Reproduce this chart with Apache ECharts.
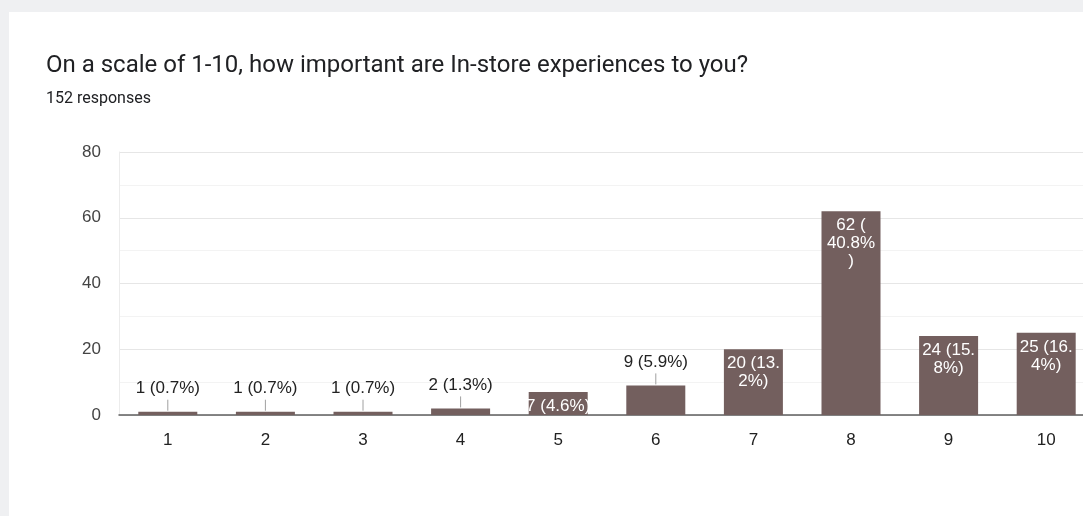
<!DOCTYPE html>
<html><head><meta charset="utf-8">
<script src="https://cdn.jsdelivr.net/npm/echarts@6/dist/echarts.min.js"></script>
<style>
html,body{margin:0;padding:0;background:#eff0f2;width:1083px;height:516px;overflow:hidden}
#card{position:absolute;left:9px;top:12px;width:1074px;height:504px;background:#fff;overflow:hidden}
#chart{width:1110px;height:504px}
</style></head><body><div id="card"><div id="chart"></div></div>
<script>
const titleText = 'On a scale of 1-10, how important are In-store experiences to you?';
const subtitleText = '152 responses';
const categories = ['1','2','3','4','5','6','7','8','9','10'];
const counts = [1, 1, 1, 2, 7, 9, 20, 62, 24, 25];
const barLabels = ['1 (0.7%)','1 (0.7%)','1 (0.7%)','2 (1.3%)','7 (4.6%)','9 (5.9%)','20 (13.\n2%)','62 (\n40.8%\n)','24 (15.\n8%)','25 (16.\n4%)'];
const yTicks = [0, 20, 40, 60, 80];

const insideIdx = new Set([4, 6, 7, 8, 9]);
const labelFont = 'Liberation Sans, Arial, sans-serif';

const chart = echarts.init(document.getElementById('chart'), null, {renderer: 'canvas'});
chart.setOption({
  animation: false,
  title: [
    {text: titleText, left: 37, top: 42, padding: 0, textStyle: {fontFamily: 'Roboto, sans-serif', fontSize: 24, fontWeight: 'normal', color: '#202124'}},
    {text: subtitleText, left: 37, top: 79, padding: 0, textStyle: {fontFamily: 'Roboto, sans-serif', fontSize: 16, fontWeight: 'normal', color: '#202124'}}
  ],
  grid: {left: 110, top: 140, width: 976, height: 263},
  xAxis: {
    type: 'category', data: categories,
    axisLine: {lineStyle: {color: '#5f5f5f', width: 1.5}},
    axisTick: {show: false},
    axisLabel: {fontFamily: labelFont, fontSize: 17, color: '#222', margin: 17}
  },
  yAxis: {
    type: 'value', min: yTicks[0], max: yTicks[yTicks.length - 1], interval: yTicks[1] - yTicks[0],
    axisLine: {show: true, lineStyle: {color: '#ececec'}},
    axisTick: {show: false},
    axisLabel: {fontFamily: labelFont, fontSize: 17, color: '#444', margin: 18, padding: [4, 0, 0, 0]},
    splitLine: {lineStyle: {color: '#e6e6e6'}},
    minorTick: {show: false, splitNumber: 2},
    minorSplitLine: {show: true, lineStyle: {color: '#f3f3f3'}}
  },
  series: [
    {
      type: 'bar', barWidth: 59,
      itemStyle: {color: '#735f5e'},
      label: {
        show: true, fontFamily: labelFont, fontSize: 17, lineHeight: 18,
        formatter: p => barLabels[p.dataIndex]
      },
      data: counts.map((v, i) => ({
        value: v,
        label: insideIdx.has(i)
          ? {position: 'insideTop', distance: 5, color: '#fff'}
          : {position: 'top', distance: 14, color: '#222'}
      }))
    },
    {
      type: 'custom', silent: true,
      data: counts.map((v, i) => [i, v]).filter((d) => !insideIdx.has(d[0])),
      renderItem: (params, api) => {
        const p = api.coord([api.value(0), api.value(1)]);
        return {type: 'line', shape: {x1: p[0], y1: p[1] - 1, x2: p[0], y2: p[1] - 12}, style: {stroke: '#a0a0a0', lineWidth: 1}};
      }
    }
  ]
});
</script></body></html>
